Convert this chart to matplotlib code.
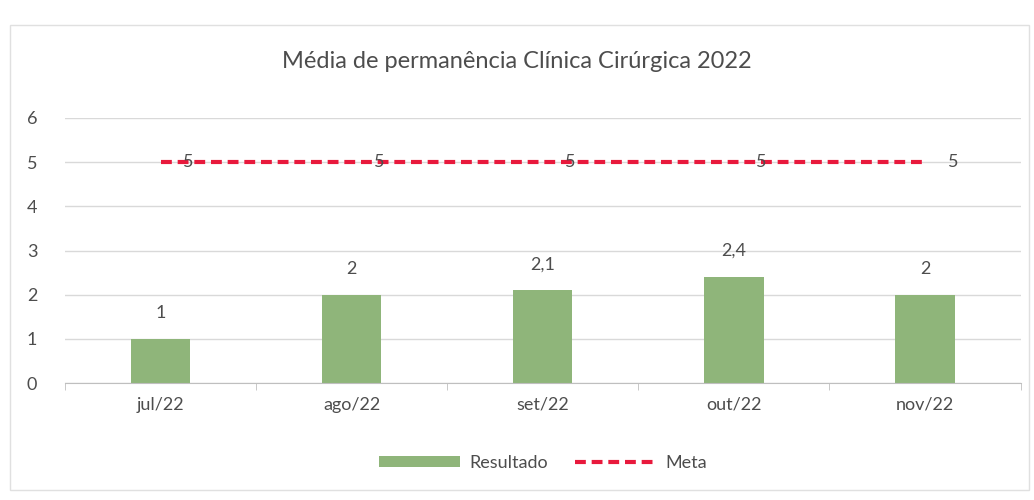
import numpy as np
import matplotlib.pyplot as plt
from matplotlib.patches import Rectangle

meses = ['jul/22', 'ago/22', 'set/22', 'out/22', 'nov/22']
resultado = [1, 2, 2.1, 2.4, 2]
meta = [5, 5, 5, 5, 5]

cor_barra = '#8fb57a'
cor_meta = '#e8193c'
cor_texto = '#4d4d4d'

plt.rcParams['font.family'] = ['Lato', 'DejaVu Sans']


def rotulo(v):
    return ('%g' % v).replace('.', ',')


def main():
    fig = plt.figure(figsize=(10.34, 5), dpi=100)
    ax = fig.add_axes([0.063, 0.234, 0.924, 0.53])

    x = np.arange(len(meses))
    barras = ax.bar(x, resultado, width=0.31, color=cor_barra, label='Resultado', zorder=2)
    linha, = ax.plot(x, meta, color=cor_meta, linestyle=(0, (2.6, 1.4)), linewidth=3,
                     label='Meta', zorder=3)

    for b, v in zip(barras, resultado):
        ax.annotate(rotulo(v), (b.get_x() + b.get_width() / 2, v),
                    xytext=(0, 13), textcoords='offset points', ha='center',
                    va='bottom', fontsize=13, color=cor_texto)
    for xi, v in zip(x, meta):
        ax.annotate(rotulo(v), (xi, v), xytext=(20, 0), textcoords='offset points',
                    ha='center', va='center', fontsize=13, color=cor_texto, zorder=4)

    ax.set_xlim(-0.5, len(meses) - 0.5)
    ax.set_ylim(0, 6)
    ax.set_yticks(range(7))
    ax.set_xticks(x)
    ax.set_xticklabels(meses)
    ax.set_xticks(np.arange(-0.5, len(meses), 1), minor=True)
    ax.tick_params(axis='x', which='major', length=0, pad=10, labelsize=13, labelcolor=cor_texto)
    ax.tick_params(axis='x', which='minor', length=5, color='#bfbfbf')
    ax.tick_params(axis='y', length=0, pad=20, labelsize=13, labelcolor=cor_texto)
    ax.grid(axis='y', color='#d9d9d9', linewidth=1, zorder=0)
    ax.set_axisbelow(True)
    for s in ['top', 'right', 'left']:
        ax.spines[s].set_visible(False)
    ax.spines['bottom'].set_color('#bfbfbf')

    fig.text(0.5, 0.876, 'Média de permanência Clínica Cirúrgica 2022', ha='center',
             va='center', fontsize=17, color=cor_texto)

    leg = fig.legend([barras, linha], ['Resultado', 'Meta'], loc='center',
                     bbox_to_anchor=(0.525, 0.074), ncol=2, frameon=False,
                     fontsize=13, handlelength=4.5, handleheight=0.6, columnspacing=1.5,
                     handletextpad=0.5)
    for t in leg.get_texts():
        t.set_color(cor_texto)

    fig.patches.append(Rectangle((0.01, 0.02), 0.985, 0.93, transform=fig.transFigure,
                                 fill=False, edgecolor='#e0e0e0', linewidth=1))

    fig.savefig('out.png', dpi=100)


if __name__ == '__main__':
    main()
